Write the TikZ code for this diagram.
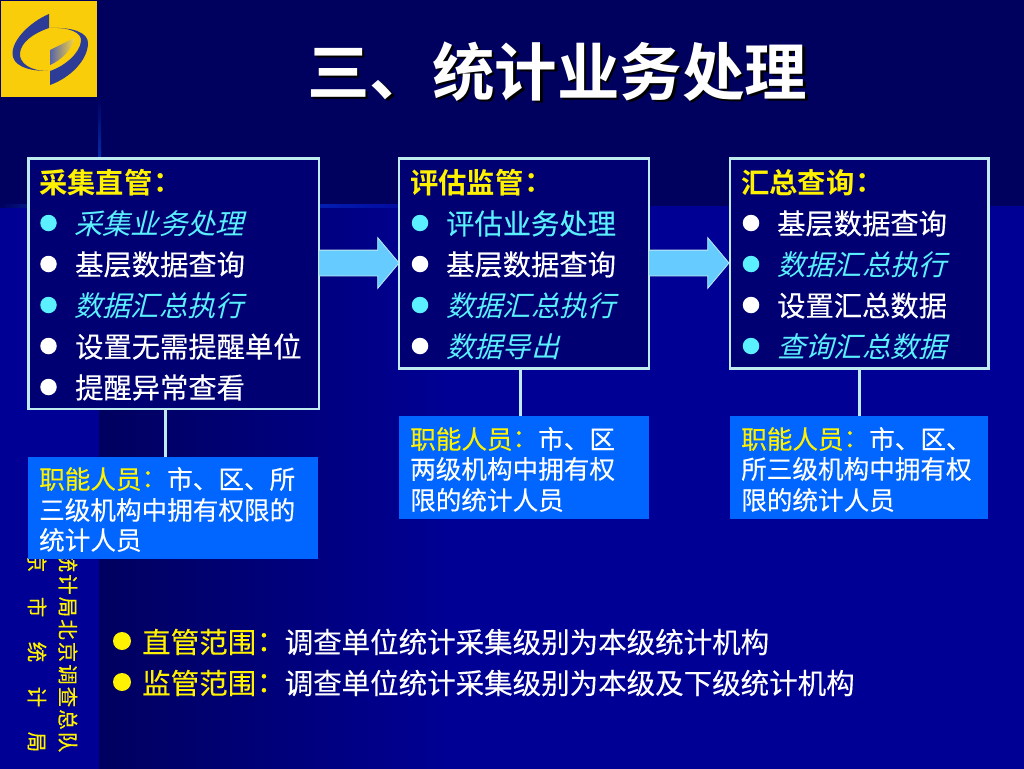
\documentclass[tikz,border=0pt]{standalone}
\usepackage{fontspec}
\usetikzlibrary{shapes.arrows}
\setmainfont[FakeBold=0.25]{Noto Sans CJK SC}
\newfontfamily\cjkb{Noto Sans CJK SC Bold}
\newfontfamily\cjkt[FakeBold=0.4]{Noto Sans CJK TC}
\newfontfamily\cjkc{Noto Sans CJK TC Bold}
\newfontfamily\cjks[FakeSlant=0.25]{Noto Sans CJK SC}
\newfontfamily\cjkside[FakeBold=0.3]{Noto Sans CJK SC}
\newcommand{\fsz}[1]{\fontsize{#1pt}{#1pt}\selectfont}
\newcommand{\ycol}{\hspace{-6.5pt}{\cjkt ：}\hspace{6.5pt}}
\newcommand{\hcol}{\hspace{-6pt}{\cjkc ：}}
\definecolor{navy}{RGB}{0,0,95}
\definecolor{panelfill}{RGB}{0,0,115}
\definecolor{stripblue}{RGB}{0,0,148}
\definecolor{boxedge}{RGB}{190,235,240}
\definecolor{noteblue}{RGB}{0,102,255}
\definecolor{crossblue}{RGB}{10,80,225}
\definecolor{cyantxt}{RGB}{90,240,255}
\definecolor{arrowblue}{RGB}{102,204,255}
\definecolor{logoblue}{RGB}{45,60,150}
\definecolor{logoyellow}{RGB}{250,205,10}
\tikzset{
 x=1pt,y=-1pt,
 panel/.style={draw=boxedge,line width=2.5pt,fill=panelfill,inner sep=0,outer sep=0,anchor=north west},
 note/.style={fill=noteblue,inner sep=0,outer sep=0,anchor=north west},
 head/.style={anchor=west,inner sep=0,text=yellow,font=\cjkb\fsz{28.3}},
 plain/.style={anchor=west,inner sep=0,text=white,font=\fsz{28.3}},
 slant/.style={anchor=west,inner sep=0,text=cyantxt,font=\cjks\fsz{28.3}},
 notetxt/.style={anchor=west,inner sep=0,text=white,font=\fsz{25.6}},
 dotw/.style={circle,fill=white,inner sep=0,minimum size=16.5pt},
 dotc/.style={circle,fill=cyantxt,inner sep=0,minimum size=16.5pt},
 doty/.style={circle,fill=yellow,inner sep=0,minimum size=18pt},
 link/.style={draw=boxedge,line width=3pt},
 flow/.style={single arrow,fill=arrowblue,draw=boxedge,line width=.8pt,inner sep=0,outer sep=0,single arrow head extend=12.5pt,single arrow tip angle=100,text height=12.5pt,text depth=12.5pt,text width=1pt,minimum height=80pt,anchor=west},
 side/.style={anchor=center,rotate=-90,inner sep=0,text=yellow,font=\cjkside\fsz{20.5}},
}
\begin{document}
\begin{tikzpicture}
\useasboundingbox (0,0) rectangle (1024,768);
% background
\fill[navy] (-4,-4) rectangle (1028,772);
\fill[stripblue] (-4,206) rectangle (99,772);
\shade[left color=navy,right color=stripblue] (99,206) rectangle (450,772);
\fill[stripblue] (449,206) rectangle (1028,772);
\shade[top color=navy,bottom color=crossblue] (98,97) rectangle (101,206);
\shade[left color=navy,right color=crossblue] (0,204.5) rectangle (99,207.5);
\shade[left color=crossblue,right color=stripblue] (99,204.5) rectangle (450,207.5);
% side text
\node[side] at (68,652) {统\hspace{2pt}计\hspace{2pt}局\hspace{2pt}北\hspace{2pt}京\hspace{2pt}调\hspace{2pt}查\hspace{2pt}总\hspace{2pt}队};
\node[side] at (37,652) {京\hspace{24.5pt}市\hspace{24.5pt}统\hspace{24.5pt}计\hspace{24.5pt}局};
% logo
\fill[logoyellow] (1,1) rectangle (97,97);
\fill[logoblue] (49,14) .. controls (30,22) and (12,40) .. (12.5,54) .. controls (13,64) and (24,71) .. (48,71) .. controls (30,71) and (19,63) .. (20,53) .. controls (21,42) and (34,33) .. (49,28) -- cycle;
\fill[logoblue] (50,85) .. controls (70,78) and (88,60) .. (88,43) .. controls (88,33) and (74,27) .. (50,28) .. controls (70,27) and (82,33) .. (81,41) .. controls (80,53) and (65,66) .. (50,71) -- cycle;
\shade[left color=logoblue!80!white,right color=logoyellow!80!white] (50,50) -- (75,37.5) .. controls (73,48) and (62,60) .. (50,65) -- cycle;
% panels
\node[panel,minimum width=290.5pt,minimum height=250.5pt] (p1) at (28.5,158.5) {};
\node[panel,minimum width=250pt,minimum height=210pt] (p2) at (399,158.5) {};
\node[panel,minimum width=258.5pt,minimum height=210pt] (p3) at (730,158.5) {};
% notes
\node[note,minimum width=290pt,minimum height=102pt] (n1) at (28,457) {};
\node[note,minimum width=250pt,minimum height=103pt] (n2) at (399,416) {};
\node[note,minimum width=258pt,minimum height=103pt] (n3) at (730,416) {};
% links
\coordinate (l1) at (165,0); \coordinate (l2) at (520,0); \coordinate (l3) at (859,0);
\draw[link] (p1.south -| l1) -- (n1.north -| l1);
\draw[link] (p2.south -| l2) -- (n2.north -| l2);
\draw[link] (p3.south -| l3) -- (n3.north -| l3);
% arrows
\node[flow] (a1) at (319,263) {};
\node[flow] (a2) at (649,263) {};
% panel 1 text
\node[head] (t11) at (39,183) {采集直管\hcol};
\node[dotc] (d12) at (48.5,223) {}; \node[slant] (t12) at (74,223.5) {采集业务处理};
\node[dotw] (d13) at (48.5,264) {}; \node[plain] (t13) at (75,264.5) {基层数据查询};
\node[dotc] (d14) at (48.5,305) {}; \node[slant] (t14) at (74,305.5) {数据汇总执行};
\node[dotw] (d15) at (48.5,346) {}; \node[plain] (t15) at (75,346.5) {设置无需提醒单位};
\node[dotw] (d16) at (48.5,387) {}; \node[plain] (t16) at (75,387.5) {提醒异常查看};
% panel 2 text
\node[head] (t21) at (410,183) {评估监管\hcol};
\node[dotc] (d22) at (420,223) {}; \node[plain,text=cyantxt] (t22) at (446,223.5) {评估业务处理};
\node[dotw] (d23) at (420,264) {}; \node[plain] (t23) at (446,264.5) {基层数据查询};
\node[dotc] (d24) at (420,305) {}; \node[slant] (t24) at (446,305.5) {数据汇总执行};
\node[dotw] (d25) at (420,346) {}; \node[slant] (t25) at (446,346.5) {数据导出};
% panel 3 text
\node[head] (t31) at (741,183) {汇总查询\hcol};
\node[dotw] (d32) at (751,223) {}; \node[plain] (t32) at (777,223.5) {基层数据查询};
\node[dotc] (d33) at (751,264) {}; \node[slant] (t33) at (777,264.5) {数据汇总执行};
\node[dotw] (d34) at (751,305) {}; \node[plain] (t34) at (777,305.5) {设置汇总数据};
\node[dotc] (d35) at (751,346) {}; \node[slant] (t35) at (777,346.5) {查询汇总数据};
% note text
\node[notetxt] (m11) at (39,479) {\textcolor{yellow}{职能人员\ycol}市、区、所};
\node[notetxt] (m12) at (39,510) {三级机构中拥有权限的};
\node[notetxt] (m13) at (39,540) {统计人员};
\node[notetxt] (m21) at (410,439) {\textcolor{yellow}{职能人员\ycol}市、区};
\node[notetxt] (m22) at (410,469) {两级机构中拥有权};
\node[notetxt] (m23) at (410,500) {限的统计人员};
\node[notetxt] (m31) at (741,439) {\textcolor{yellow}{职能人员\ycol}市、区、};
\node[notetxt] (m32) at (741,469) {所三级机构中拥有权};
\node[notetxt] (m33) at (741,500) {限的统计人员};
% bottom
\node[doty] (b1) at (122,641) {};
\node[plain,font=\fsz{28.5}] (b1t) at (142,642) {\textcolor{yellow}{直管范围\ycol}调查单位统计采集级别为本级统计机构};
\node[doty] (b2) at (122,682) {};
\node[plain,font=\fsz{28.5}] (b2t) at (142,683) {\textcolor{yellow}{监管范围\ycol}调查单位统计采集级别为本级及下级统计机构};
% title
\node[anchor=west,inner sep=0,text=black,font=\cjkb\fsz{62.5}] (ts) at (309.5,74) {三、统计业务处理};
\node[anchor=west,inner sep=0,text=white,font=\cjkb\fsz{62.5}] (title) at (307,71.5) {三、统计业务处理};
\end{tikzpicture}
\end{document}
